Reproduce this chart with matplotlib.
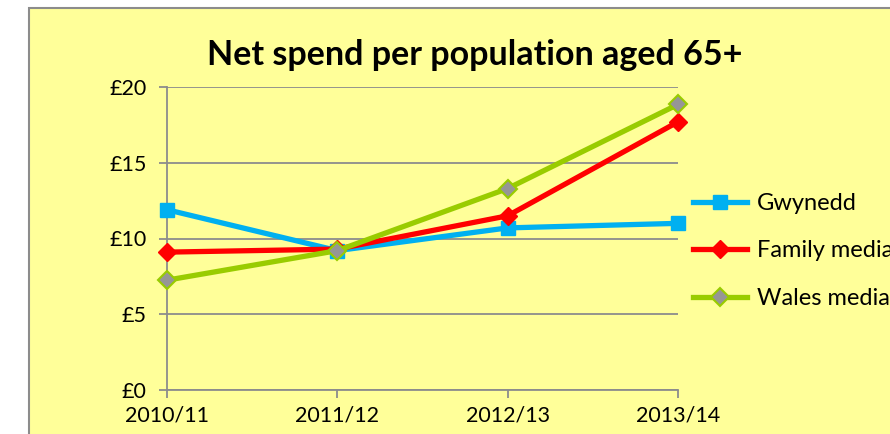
import matplotlib
matplotlib.use("Agg")
import matplotlib.pyplot as plt
from matplotlib.patches import Rectangle

categories = ["2010/11", "2011/12", "2012/13", "2013/14"]
gwynedd = [11.9, 9.2, 10.7, 11.0]
family_median = [9.1, 9.3, 11.5, 17.7]
wales_median = [7.25, 9.2, 13.3, 18.85]
yticks = [0, 5, 10, 15, 20]
ytick_labels = ["£0", "£5", "£10", "£15", "£20"]

plt.rcParams['font.family'] = ['Lato', 'DejaVu Sans']

W, H = 890, 434
fig = plt.figure(figsize=(W/100, H/100), dpi=100)
fig.patch.set_facecolor("white")
bg = "#FFFF99"
frame = Rectangle((29/W, -0.05), 1.1, 1 - 8/H + 0.05, transform=fig.transFigure,
                  facecolor=bg, edgecolor="#8C8C8C", linewidth=1.5, zorder=-10)
fig.patches.append(frame)

ax = fig.add_axes([167/W, (H-390)/H, (678-167)/W, (390-87)/H])
ax.set_facecolor("none")
x = list(range(len(categories)))

ax.plot(x, gwynedd, color="#00B0F0", lw=3.8, marker="s", ms=10,
        mfc="#00B0F0", mec="#00B0F0", label="Gwynedd", clip_on=False, zorder=3)
ax.plot(x, family_median, color="#FF0000", lw=3.8, marker="D", ms=9,
        mfc="#FF0000", mec="#FF0000", label="Family median", clip_on=False, zorder=4)
ax.plot(x, wales_median, color="#99CC00", lw=3.8, marker="D", ms=9,
        mfc="#969696", mec="#99CC00", mew=1.5, label="Wales median", clip_on=False, zorder=5)

ax.set_xlim(0, 3)
ax.set_ylim(0, 20)
ax.set_xticks(x)
ax.set_xticklabels(categories, fontsize=15.5)
ax.set_yticks(yticks)
ax.set_yticklabels(ytick_labels, fontsize=15.5)
ax.yaxis.grid(True, color="#8C8C8C", linewidth=1.3)
ax.set_axisbelow(True)
for s in ["top", "right"]:
    ax.spines[s].set_visible(False)
for s in ["left", "bottom"]:
    ax.spines[s].set_color("#8C8C8C")
    ax.spines[s].set_linewidth(1.3)
ax.tick_params(axis="both", direction="out", length=5.8, width=1.3, color="#8C8C8C")
ax.tick_params(axis="y", pad=9)
ax.tick_params(axis="x", pad=5)

fig.text(475/W, 1 - 55/H, "Net spend per population aged 65+", ha="center", va="center",
         fontsize=24.5, fontweight="bold")

leg = ax.legend(loc="upper left", bbox_to_anchor=(693/W, 1 - 193/H),
                bbox_transform=fig.transFigure, frameon=False, fontsize=17,
                handlelength=2.3, labelspacing=1.12, handletextpad=0.4,
                borderaxespad=0, borderpad=0)

fig.savefig("out.png", dpi=100)
